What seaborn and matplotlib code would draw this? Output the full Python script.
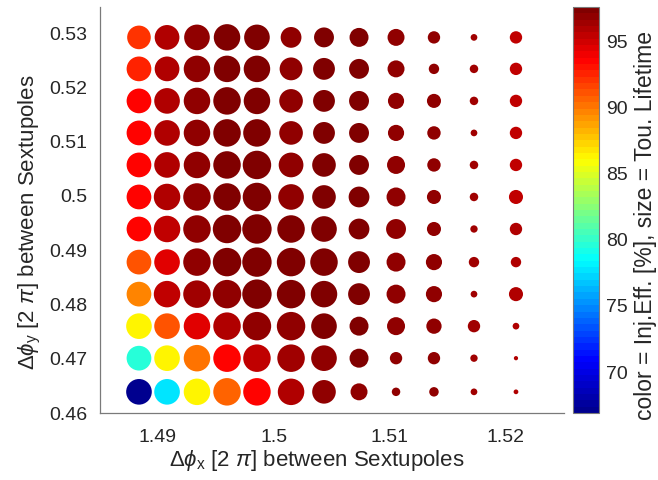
import numpy as np
import pandas as pd
import matplotlib
matplotlib.use("Agg")
import matplotlib.pyplot as plt
import seaborn as sns
from matplotlib.colors import Normalize, LinearSegmentedColormap
from matplotlib.cm import ScalarMappable

# Horizontal phase advance between sextupoles [2 pi] (columns)
phase_x = [1.48836, 1.49078, 1.49336, 1.49595, 1.49853, 1.50147,
           1.50431, 1.50733, 1.51052, 1.51379, 1.51724, 1.52086]
# Vertical phase advance between sextupoles [2 pi] (rows, top to bottom)
phase_y = [0.5292, 0.5234, 0.5175, 0.5116, 0.5057, 0.4998,
           0.4939, 0.4878, 0.4819, 0.4760, 0.4701, 0.4639]

# Injection efficiency [%] (rows top to bottom, columns left to right)
inj_eff = [
    [92.2, 96.1, 96.8, 97.2, 97.4, 97.0, 97.2, 97.3, 96.8, 96.9, 96.3, 95.3],
    [92.8, 95.7, 96.8, 97.2, 97.4, 97.0, 97.2, 97.3, 96.8, 96.9, 96.3, 95.3],
    [93.5, 95.7, 96.8, 97.2, 97.4, 97.0, 97.2, 97.3, 97.0, 96.9, 96.3, 95.3],
    [93.5, 95.7, 96.8, 97.2, 97.4, 97.0, 97.2, 97.3, 97.0, 96.9, 96.3, 95.3],
    [93.5, 95.7, 96.9, 97.3, 97.4, 97.1, 97.2, 97.3, 97.0, 96.9, 96.3, 95.3],
    [93.5, 95.7, 97.0, 97.3, 97.5, 97.1, 97.2, 97.3, 97.0, 96.9, 96.3, 95.3],
    [93.3, 95.5, 97.0, 97.3, 97.5, 97.2, 97.2, 97.3, 97.0, 96.9, 96.3, 95.7],
    [91.1, 94.3, 96.8, 97.3, 97.5, 97.2, 97.2, 97.3, 97.0, 96.9, 96.3, 95.7],
    [89.9, 95.3, 96.6, 97.0, 97.3, 97.2, 97.2, 97.3, 97.0, 96.9, 96.3, 95.7],
    [86.5, 91.0, 94.5, 95.9, 97.0, 97.0, 97.2, 97.3, 97.0, 96.9, 96.3, 96.0],
    [79.6, 86.3, 90.3, 93.5, 95.3, 96.2, 97.0, 97.2, 97.0, 96.9, 96.3, 96.0],
    [67.2, 77.6, 86.5, 90.8, 93.7, 95.9, 96.8, 97.0, 96.9, 96.9, 96.3, 96.0],
]

# Touschek lifetime (arbitrary units, marker area proportional)
lifetime = [
    [6.2, 6.8, 7.3, 7.8, 7.3, 4.8, 4.4, 4.0, 3.2, 1.7, 0.5, 1.7],
    [6.8, 6.8, 7.8, 7.8, 7.8, 5.8, 5.3, 4.4, 3.2, 1.2, 0.8, 1.7],
    [6.8, 7.3, 7.8, 8.4, 7.8, 6.2, 5.3, 4.4, 2.9, 2.2, 0.8, 1.7],
    [6.8, 7.3, 7.8, 8.4, 8.4, 6.2, 5.3, 4.4, 2.9, 2.0, 0.5, 1.7],
    [6.8, 7.3, 7.8, 8.4, 9.0, 6.8, 6.2, 4.4, 3.6, 2.0, 0.8, 1.7],
    [6.8, 7.8, 8.4, 8.4, 9.0, 7.3, 6.2, 4.8, 4.0, 2.2, 0.8, 2.2],
    [6.8, 7.8, 8.4, 9.0, 9.6, 8.4, 7.3, 4.8, 4.4, 2.2, 0.6, 1.7],
    [6.8, 7.3, 8.4, 9.0, 9.6, 9.0, 8.4, 5.3, 4.0, 2.9, 1.2, 1.2],
    [6.8, 7.8, 8.4, 9.0, 9.6, 9.0, 7.8, 5.3, 4.0, 2.9, 0.5, 2.2],
    [7.3, 7.3, 7.8, 8.4, 9.0, 9.0, 7.3, 4.0, 3.6, 2.6, 1.7, 0.5],
    [6.8, 7.3, 7.8, 8.4, 8.4, 8.4, 7.3, 4.0, 1.7, 1.7, 0.6, 0.2],
    [7.3, 7.3, 7.8, 8.4, 8.4, 7.8, 6.2, 3.2, 0.8, 1.0, 0.5, 0.25],
]

x_ticks = [1.49, 1.50, 1.51, 1.52]
x_ticklabels = ["1.49", "1.5", "1.51", "1.52"]
y_ticks = [0.46, 0.47, 0.48, 0.49, 0.50, 0.51, 0.52, 0.53]
y_ticklabels = ["0.46", "0.47", "0.48", "0.49", "0.5", "0.51", "0.52", "0.53"]
cbar_ticks = [70, 75, 80, 85, 90, 95]

rows = []
for i, yv in enumerate(phase_y):
    for j, xv in enumerate(phase_x):
        rows.append((xv, yv, inj_eff[i][j], lifetime[i][j]))
df = pd.DataFrame(rows, columns=["dphix", "dphiy", "eff", "life"])

sns.set_theme(style="white")
plt.rcParams["font.family"] = ["Liberation Sans", "DejaVu Sans"]
plt.rcParams["mathtext.fontset"] = "custom"
plt.rcParams["mathtext.rm"] = "Liberation Sans"
plt.rcParams["mathtext.it"] = "Liberation Sans:italic"

# MATLAB-style jet colormap
jet = LinearSegmentedColormap.from_list(
    "matlab_jet",
    [(0.0, (0.0, 0.0, 0.5625)), (0.125, (0.0, 0.0, 1.0)),
     (0.375, (0.0, 1.0, 1.0)), (0.625, (1.0, 1.0, 0.0)),
     (0.875, (1.0, 0.0, 0.0)), (1.0, (0.5, 0.0, 0.0))], N=64)

fig = plt.figure(figsize=(6.58, 4.80), dpi=100)
ax = fig.add_axes([100 / 658, 1 - 413 / 480, 464 / 658, 406 / 480])
cax = fig.add_axes([573 / 658, 1 - 413 / 480, 26 / 658, 406 / 480])

norm = Normalize(vmin=66.9, vmax=97.6)
life_max = 9.6
area_max = 0.5184 * 100 * 0.9 * life_max  # pt^2 for largest marker

sns.scatterplot(data=df, x="dphix", y="dphiy", hue="eff", size="life",
                palette=jet, hue_norm=norm,
                sizes=(0, area_max), size_norm=(0, life_max),
                linewidth=0, edgecolor="none", alpha=1.0,
                legend=False, ax=ax)

ax.set_xlim(1.485, 1.525)
ax.set_ylim(0.46, 0.5348)
ax.set_xticks(x_ticks)
ax.set_xticklabels(x_ticklabels)
ax.set_yticks(y_ticks)
ax.set_yticklabels(y_ticklabels)

axis_col = "#7a7a7a"
text_col = "#262626"
for s in ["top", "right"]:
    ax.spines[s].set_visible(False)
for s in ["left", "bottom"]:
    ax.spines[s].set_color(axis_col)
    ax.spines[s].set_linewidth(0.9)
ax.tick_params(axis="both", direction="in", length=4, width=0.8,
               color=axis_col, labelsize=14, labelcolor=text_col)
ax.tick_params(axis="y", pad=9)
ax.tick_params(axis="x", pad=11.5)

ax.set_xlabel(r"$\Delta\phi_{\mathrm{x}}$ [2 $\pi$] between Sextupoles",
              fontsize=16, color=text_col, va="center", ha="center")
ax.set_ylabel(r"$\Delta\phi_{\mathrm{y}}$ [2 $\pi$] between Sextupoles",
              fontsize=16, color=text_col, va="center", ha="center")
ax.xaxis.set_label_coords(0.468, -0.118)
ax.yaxis.set_label_coords(-0.151, 0.47)

sm = ScalarMappable(norm=norm, cmap=jet)
sm.set_array([])
cb = fig.colorbar(sm, cax=cax)
cb.set_ticks(cbar_ticks)
cb.outline.set_edgecolor(axis_col)
cb.outline.set_linewidth(0.8)
cax.tick_params(direction="in", length=3, width=0.8, color=axis_col,
                labelsize=14, labelcolor=text_col, pad=5)
cb.set_label("color = Inj.Eff. [%], size = Tou. Lifetime",
             fontsize=16.5, color=text_col, va="center", ha="center")
cax.yaxis.set_label_coords(2.78, 0.463)

fig.savefig("out.png", dpi=100)
